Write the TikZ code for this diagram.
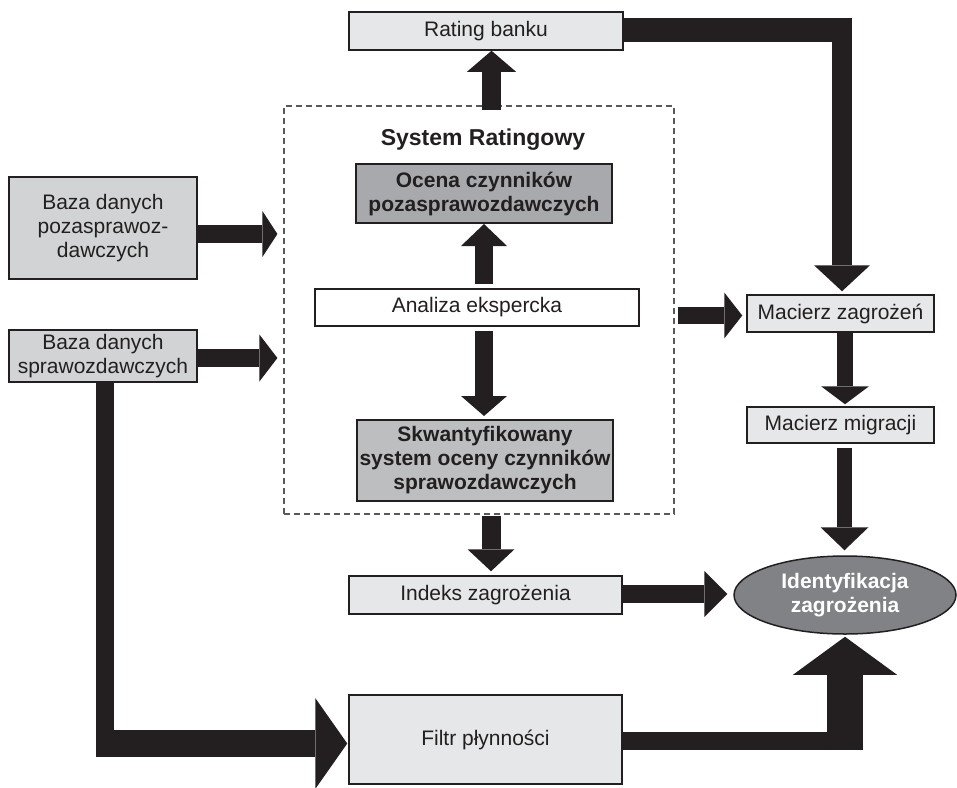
\documentclass[tikz,border=0pt]{standalone}
\usepackage{fontspec}
\setmainfont{Liberation Sans}
\usetikzlibrary{arrows.meta,shapes.geometric}
\definecolor{ink}{HTML}{231F20}
\definecolor{lightbox}{HTML}{E6E7E8}
\definecolor{midbox}{HTML}{D1D3D4}
\definecolor{darkbox}{HTML}{A7A9AC}
\definecolor{darkboxb}{HTML}{BCBEC0}
\definecolor{ellfill}{HTML}{808285}
\definecolor{dashgray}{HTML}{58595B}
\tikzset{
  box/.style={draw=ink, line width=1.5pt, rectangle, inner sep=0pt, align=center,
    font=\fontsize{21}{24}\selectfont, text=ink},
  lbox/.style={box, fill=lightbox},
  mbox/.style={box, fill=midbox},
  dbox/.style={box, line width=2pt, fill=darkbox, font=\fontsize{21}{24}\selectfont\bfseries},
  blk/.style={draw=ink, line cap=butt},
  tipA/.style 2 args={-{Triangle[length=#1pt,width=#2pt,line width=0pt]}},
}
\begin{document}
\begin{tikzpicture}[x=1pt,y=-1pt]
\useasboundingbox (0,0) rectangle (957,787);
% dashed system box
\node[draw=dashgray, dash pattern=on 6pt off 4pt, line width=1.2pt, rectangle, inner sep=0pt,
  minimum width=390pt, minimum height=408pt] (sys) at (479,310) {};
\node[font=\fontsize{23}{26}\selectfont\bfseries, text=ink] (title) at (483,140) {System Ratingowy};
% nodes
\node[lbox, minimum width=274pt, minimum height=38pt] (rating) at (486,31) {Rating banku};
\node[dbox, minimum width=256pt, minimum height=59pt] (ocena) at (484,193.5) {Ocena czynników\\pozasprawozdawczych};
\node[box, fill=white, minimum width=324pt, minimum height=37pt] (analiza) at (477,307.5) {Analiza ekspercka};
\node[dbox, fill=darkboxb, minimum width=256pt, minimum height=81pt] (skwant) at (485,460.5) {Skwantyfikowany\\system oceny czynników\\sprawozdawczych};
\node[lbox, minimum width=273pt, minimum height=38pt] (indeks) at (485.5,595) {Indeks zagrożenia};
\node[lbox, minimum width=273pt, minimum height=89pt] (filtr) at (485.5,739.5) {Filtr płynności};
\node[mbox, minimum width=188pt, minimum height=102pt] (baza1) at (103,228) {Baza danych\\pozasprawoz-\\dawczych};
\node[mbox, minimum width=188pt, minimum height=52pt] (baza2) at (103,356) {Baza danych\\sprawozdawczych};
\node[lbox, minimum width=187pt, minimum height=37pt] (mz) at (840.5,313.5) {Macierz zagrożeń};
\node[lbox, minimum width=187pt, minimum height=36pt] (mm) at (840.5,425) {Macierz migracji};
\node[ellipse, draw=ink, line width=1.5pt, fill=ellfill, inner sep=0pt, minimum width=222pt, minimum height=78pt,
  align=center, text=white, font=\fontsize{21}{24}\selectfont\bfseries] (ident) at (845,595) {Identyfikacja\\zagrożenia};
% arrows
\draw[blk, line width=18pt, tipA={15}{46}] (baza1.east |- 0,234) -- ([xshift=-6pt]sys.west |- 0,234);
\draw[blk, line width=18pt, tipA={18}{47}] (baza2.east |- 0,358) -- ([xshift=-6pt]sys.west |- 0,358);
\draw[blk, line width=19pt, tipA={21}{49}] ([yshift=-5pt]sys.north -| 491.5,0) -- (rating.south -| 491.5,0);
\draw[blk, line width=18pt, tipA={22}{46}] ([yshift=4pt]analiza.north -| 484,0) -- (ocena.south -| 484,0);
\draw[blk, line width=18pt, tipA={20}{46}] ([yshift=-4pt]analiza.south -| 484,0) -- ([yshift=3pt]skwant.north -| 484,0);
\draw[blk, line width=19pt, tipA={22}{47}] ([yshift=-1pt]sys.south -| 491,0) -- ([yshift=4pt]indeks.north -| 491,0);
\draw[blk, line width=17pt, tipA={18}{46}] ([xshift=3pt]sys.east |- 0,315.5) -- ([xshift=-4pt]mz.west |- 0,315.5);
% rating -> macierz zagrozen (elbow)
\coordinate (c1) at (852,30);
\draw[blk, line width=24pt] (rating.east |- 0,30) -- (c1);
\draw[blk, line width=20pt, tipA={26}{56}] (842,18) -- ([yshift=3pt]mz.north -| 842,0);
\draw[blk, line width=16pt, tipA={18}{48}] (mz.south -| 845,0) -- ([yshift=2pt]mm.north -| 845,0);
\draw[blk, line width=15pt, tipA={23}{48}] ([yshift=-4pt]mm.south -| 844.5,0) -- ([yshift=5pt]ident.north -| 844.5,0);
\draw[blk, line width=18pt, tipA={23}{46}] (indeks.east |- 0,594) -- ([xshift=-6pt]ident.west |- 0,594);
% filtr -> identyfikacja (elbow)
\coordinate (c2) at (863,741);
\draw[blk, line width=18pt] (filtr.east |- 0,741) -- (c2);
\draw[blk, line width=36pt, tipA={38}{104}] (845,750) -- ([yshift=-2pt]ident.south -| 845,0);
% baza2 -> filtr (elbow)
\coordinate (c3) at (105,757);
\draw[blk, line width=18pt] (baza2.south -| 105,0) -- (c3);
\draw[blk, line width=27pt, tipA={32}{91}] (96,743.5) -- ([xshift=-1pt]filtr.west |- 0,743.5);
\end{tikzpicture}
\end{document}
